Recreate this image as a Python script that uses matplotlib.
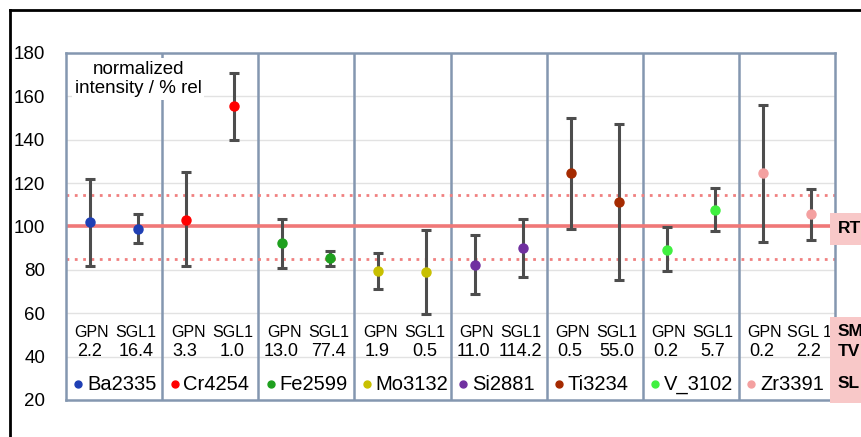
import numpy as np
import matplotlib
matplotlib.use("Agg")
import matplotlib.pyplot as plt
from matplotlib.lines import Line2D
from matplotlib.patches import Rectangle

# --- data ---
elements   = ["Ba2335", "Cr4254", "Fe2599", "Mo3132", "Si2881", "Ti3234", "V_3102", "Zr3391"]
colors     = ["#1f3fb4", "#ff0000", "#1ea01e", "#c8c000", "#7030a0", "#a52a00", "#40f040", "#f4a0a0"]
gpn_val    = [102, 103, 92.5, 79.5, 82.3, 124.5, 89.3, 124.7]
gpn_lo     = [82, 82, 81, 71, 69, 99, 79.6, 93]
gpn_hi     = [122, 125, 103.5, 88, 96, 150.2, 99.6, 156.2]
sgl_val    = [99, 155.5, 85.5, 79.2, 90.1, 111.2, 107.8, 105.6]
sgl_lo     = [92.4, 140, 82, 59.7, 76.7, 75.2, 98.1, 94]
sgl_hi     = [105.8, 170.8, 88.5, 98.4, 103.5, 147.3, 117.6, 117.2]
gpn_num    = ["2.2", "3.3", "13.0", "1.9", "11.0", "0.5", "0.2", "0.2"]
sgl_num    = ["16.4", "1.0", "77.4", "0.5", "114.2", "55.0", "5.7", "2.2"]
sgl_name   = ["SGL1"] * 7 + ["SGL 1"]
ref_level  = 100
band       = (85, 114.5)
yticks     = [20, 40, 60, 80, 100, 120, 140, 160, 180]

plt.rcParams['font.family'] = ['Liberation Sans', 'DejaVu Sans']

fig = plt.figure(figsize=(8.61, 4.37), dpi=100)
ax = fig.add_axes([66/861, 37/437, 769/861, 347/437])

frame = "#8497b0"
n = len(elements)
ax.set_xlim(0, n)
ax.set_ylim(20, 180)
ax.set_yticks(yticks)
ax.set_xticks([])
ax.tick_params(axis='y', length=0, pad=15, labelsize=13.5)
for s in ax.spines.values():
    s.set_color(frame)
    s.set_linewidth(1.8)
for y in yticks[1:-1]:
    ax.axhline(y, color="#e2e2e2", lw=1, zorder=0)
for i in range(1, n):
    ax.axvline(i, color=frame, lw=1.8, zorder=1)

# reference lines
ax.axhline(ref_level, color="#f07878", lw=2.6, zorder=2)
for b in band:
    ax.plot([0, n + 0.04], [b, b], color="#f08080", lw=2, ls=(0, (1, 2)),
            clip_on=False, zorder=2)

x = np.arange(n)
for i in range(n):
    for xo, v, lo, hi in [(0.25, gpn_val[i], gpn_lo[i], gpn_hi[i]),
                          (0.75, sgl_val[i], sgl_lo[i], sgl_hi[i])]:
        ax.errorbar(x[i] + xo, v, yerr=[[v - lo], [hi - v]], fmt='o',
                    color=colors[i], ecolor="#4d4d4d", elinewidth=2.2,
                    capsize=3.5, capthick=2.2, markersize=6.5, zorder=4)
    ax.text(x[i] + 0.27, 51, "GPN", ha='center', va='center', fontsize=11.5)
    ax.text(x[i] + 0.73, 51, sgl_name[i], ha='center', va='center', fontsize=11.5)
    ax.text(x[i] + 0.24, 42.2, gpn_num[i], ha='center', va='center', fontsize=13)
    ax.text(x[i] + 0.73, 42.2, sgl_num[i], ha='center', va='center', fontsize=13)
    ax.plot(x[i] + 0.13, 27.5, 'o', color=colors[i], markersize=5, zorder=4)
    ax.text(x[i] + 0.22, 27, elements[i], ha='left', va='center', fontsize=14.5)

ax.text(0.75, 168, "normalized\nintensity / % rel", ha='center', va='center',
        fontsize=13.5, linespacing=1.2, zorder=5,
        bbox=dict(facecolor='white', edgecolor='none', pad=2))

# pink side labels (cut off at the right edge, as in the source slide)
pink = "#f8c8c8"
ax.add_patch(Rectangle((n - 0.05, 91.5), 1, 14.7, facecolor=pink,
                       edgecolor='none', clip_on=False, zorder=3))
ax.add_patch(Rectangle((n - 0.05, 18.6), 1, 39.8, facecolor=pink,
                       edgecolor='none', clip_on=False, zorder=3))
for ytxt, lbl in [(99, "RT"), (51.5, "SM"), (42.5, "TV"), (27.5, "SL")]:
    ax.text(n + 0.03, ytxt, lbl, ha='left', va='center', fontsize=12.5,
            fontweight='bold', clip_on=False, zorder=4)

# black slide frame at top and left
fig.add_artist(Line2D([10/861, 1], [1 - 10/437] * 2, color='black', lw=2))
fig.add_artist(Line2D([10/861] * 2, [0, 1 - 10/437], color='black', lw=2))

fig.savefig("out.png", dpi=100)
